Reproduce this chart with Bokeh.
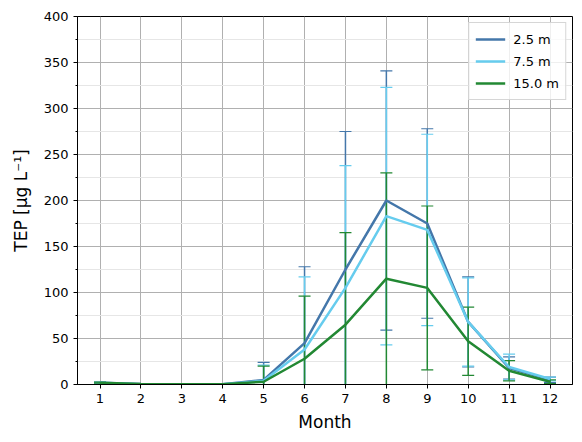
from bokeh.plotting import figure
from bokeh.models import ColumnDataSource, Whisker, Range1d, FixedTicker, Legend, LegendItem
from bokeh.embed import file_html
from bokeh.resources import INLINE

months = [1, 2, 3, 4, 5, 6, 7, 8, 9, 10, 11, 12]
depth_labels = ["2.5 m", "7.5 m", "15.0 m"]
tep_25 = [2, 0.5, 0.3, 0.3, 5, 45, 125, 200, 175, 68, 18, 5]
std_25 = [0.5, 0.2, 0.1, 0.1, 19, 83, 150, 141, 103, 49, 12, 3]
tep_75 = [2, 0.4, 0.3, 0.3, 4, 38, 105, 183, 168, 68, 19, 6]
std_75 = [0.5, 0.2, 0.1, 0.1, 17, 79, 133, 140, 104, 48, 14, 2]
tep_150 = [2, 0.5, 0.3, 0.3, 3, 28, 65, 115, 105, 47, 15, 3]
std_150 = [0.5, 0.2, 0.1, 0.1, 17, 68, 100, 115, 89, 37, 11, 2]
colors = ["#4477AA", "#66CCEE", "#228833"]
y_ticks = [0, 50, 100, 150, 200, 250, 300, 350, 400]

p = figure(width=574, height=434, output_backend="svg", toolbar_location=None,
           x_range=Range1d(0.45, 12.55), y_range=Range1d(0, 400),
           min_border_left=77, min_border_right=2, min_border_top=16, min_border_bottom=49)
p.background_fill_color = "white"
p.border_fill_color = "white"
p.outline_line_color = "black"
p.outline_line_width = 1

items = []
for label, vals, errs, col in zip(depth_labels, [tep_25, tep_75, tep_150],
                                  [std_25, std_75, std_150], colors):
    src = ColumnDataSource(dict(x=months, y=vals,
                                upper=[v + e for v, e in zip(vals, errs)],
                                lower=[v - e for v, e in zip(vals, errs)]))
    r = p.line("x", "y", source=src, line_color=col, line_width=2.5)
    w = Whisker(base="x", upper="upper", lower="lower", source=src,
                line_color=col, line_width=1.5)
    w.upper_head.size = 12
    w.lower_head.size = 12
    w.upper_head.line_color = col
    w.lower_head.line_color = col
    w.upper_head.line_width = 1.2
    w.lower_head.line_width = 1.2
    p.add_layout(w)
    items.append(LegendItem(label=label, renderers=[r]))

legend = Legend(items=items, location="top_right")
legend.label_text_font = "DejaVu Sans"
legend.label_text_font_size = "13px"
legend.label_text_color = "black"
legend.border_line_color = "#cccccc"
legend.border_line_alpha = 0.8
legend.background_fill_alpha = 0.8
legend.glyph_width = 30
legend.label_standoff = 8
legend.spacing = 2
legend.padding = 6
legend.margin = 6
p.add_layout(legend)

p.xaxis.ticker = FixedTicker(ticks=months)
p.yaxis.ticker = FixedTicker(ticks=y_ticks, minor_ticks=[25, 75, 125, 175, 225, 275, 325, 375])
p.xaxis.axis_label = "Month"
p.yaxis.axis_label = "TEP [μg L⁻¹]"
for ax in [p.xaxis[0], p.yaxis[0]]:
    ax.axis_label_text_font = "DejaVu Sans"
    ax.axis_label_text_font_size = "17px"
    ax.axis_label_text_font_style = "normal"
    ax.axis_label_text_color = "black"
    ax.major_label_text_font = "DejaVu Sans"
    ax.major_label_text_font_size = "13px"
    ax.major_tick_out = 4
    ax.major_tick_in = 0
    ax.minor_tick_out = 2
    ax.minor_tick_in = 0
    ax.axis_line_color = "black"
    ax.major_tick_line_color = "black"
    ax.minor_tick_line_color = "black"
    ax.major_label_text_color = "black"
p.xaxis.minor_tick_line_color = None
p.xaxis.axis_label_standoff = 6
p.yaxis.axis_label_standoff = 10

p.xgrid.grid_line_color = "#b0b0b0"
p.xgrid.grid_line_width = 1
p.ygrid.grid_line_color = "#b0b0b0"
p.ygrid.grid_line_width = 1
p.ygrid.minor_grid_line_color = "#e6e6e6"
p.ygrid.minor_grid_line_width = 1

open("out.html", "w").write(file_html(p, INLINE))
